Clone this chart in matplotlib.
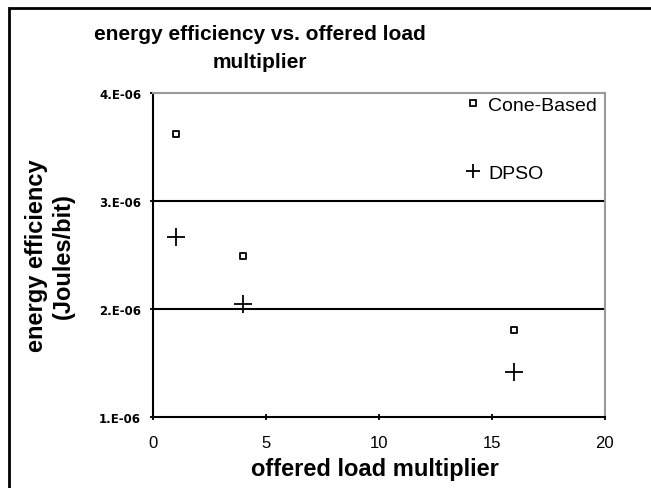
import numpy as np
import matplotlib
matplotlib.use('Agg')
from matplotlib import pyplot as plt
from matplotlib.patches import Rectangle
from matplotlib.lines import Line2D

load = [1, 4, 16]
cone_based = [3.62e-6, 2.49e-6, 1.81e-6]
dpso = [2.67e-6, 2.05e-6, 1.42e-6]
yticks = [1e-6, 2e-6, 3e-6, 4e-6]
ytick_labels = ['1.E-06', '2.E-06', '3.E-06', '4.E-06']
xticks = [0, 5, 10, 15, 20]

plt.rcParams['font.family'] = ['Liberation Sans', 'DejaVu Sans']

fig = plt.figure(figsize=(6.51, 4.89), dpi=100)
# outer chart border (cut off at right and bottom)
fig.patches.append(Rectangle((9/651, -0.1), 1.2, 1 - 9/489 + 0.1, transform=fig.transFigure,
                             fill=False, edgecolor='black', linewidth=2))
ax = fig.add_axes([0.235, 0.145, 0.694, 0.663])

ax.scatter(load, cone_based, marker='s', s=22, facecolors='white', edgecolors='black',
           linewidths=1.3, zorder=3)
ax.scatter(load, dpso, marker='+', s=150, color='black', linewidths=1.3, zorder=3)

ax.set_xlim(0, 20)
ax.set_ylim(1e-6, 4e-6)
ax.set_xticks(xticks)
ax.set_xticklabels([str(x) for x in xticks], fontsize=12)
ax.set_yticks(yticks)
ax.set_yticklabels(ytick_labels, fontsize=8.5, fontweight='bold', family='DejaVu Sans')
ax.tick_params(direction='inout', length=5, width=1.3)
ax.tick_params(axis='x', pad=10.5)
ax.tick_params(axis='y', pad=6)
for y in [2e-6, 3e-6]:
    ax.axhline(y, color='black', linewidth=1.5, zorder=1)
ax.spines['left'].set_linewidth(1.5)
ax.spines['bottom'].set_linewidth(1.5)
ax.spines['top'].set_color('#999999')
ax.spines['right'].set_color('#999999')
ax.spines['top'].set_linewidth(1.5)
ax.spines['right'].set_linewidth(1.5)

fig.text(375/651, 1 - 470/489, 'offered load multiplier', ha='center', va='center',
         fontsize=17, fontweight='bold')
fig.text(50/651, 1 - 256/489, 'energy efficiency\n(Joules/bit)', ha='center', va='center',
         rotation=90, fontsize=17, fontweight='bold', linespacing=1.25)
fig.text(260/651, 1 - 48.5/489, 'energy efficiency vs. offered load\nmultiplier', ha='center',
         va='center', fontsize=15, fontweight='bold', linespacing=1.55)

handles = [Line2D([], [], linestyle='none', marker='s', markersize=5, markerfacecolor='white',
                  markeredgecolor='black', markeredgewidth=1.3),
           Line2D([], [], linestyle='none', marker='+', markersize=10, color='black',
                  markeredgewidth=1.3)]
ax.legend(handles, ['Cone-Based', 'DPSO'], loc='upper left', bbox_to_anchor=(0.686, 0.99),
          frameon=False, fontsize=14, handletextpad=0.3, labelspacing=2.6, borderpad=0,
          borderaxespad=0, handlelength=1.0)

fig.savefig('out.png', dpi=100)
